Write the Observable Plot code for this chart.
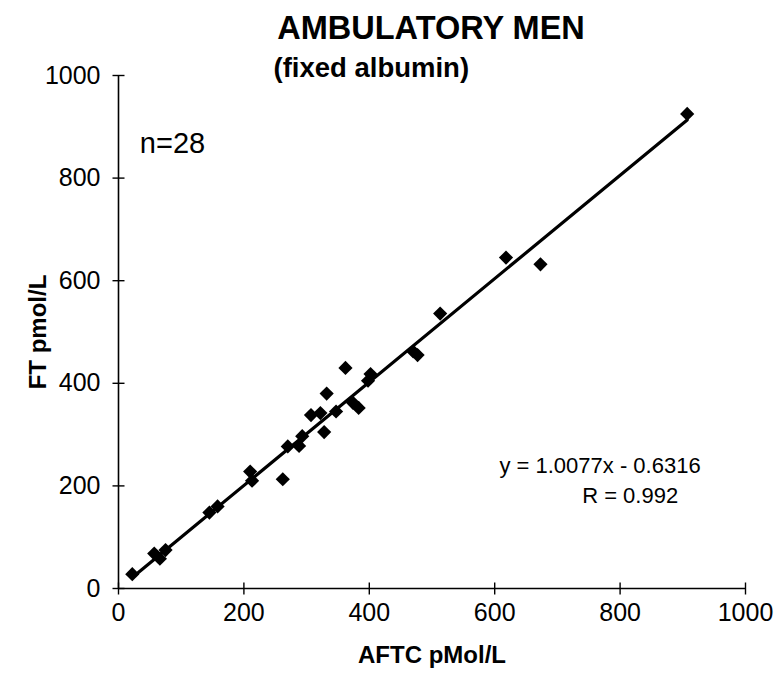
<!DOCTYPE html>
<html>
<head>
<meta charset="utf-8">
<script src="https://cdn.jsdelivr.net/npm/d3@7"></script>
<script src="https://cdn.jsdelivr.net/npm/@observablehq/plot@0.6"></script>
<style>
  html, body { margin: 0; padding: 0; background: #fff; }
  #chart { width: 775px; height: 679px; }
</style>
</head>
<body>
<div id="chart"></div>
<script>
// Ambulatory men, fixed albumin: analogue free testosterone vs free testosterone
const aftc = [22, 57, 66, 75, 145, 158, 210, 213, 262, 270, 288, 293, 307, 322, 328, 332,
              347, 362, 374, 383, 398, 402, 470, 477, 513, 618, 673, 907];
const ft   = [28, 68, 58, 75, 148, 160, 228, 210, 213, 277, 278, 297, 338, 342, 305, 380,
              345, 430, 362, 352, 405, 418, 462, 455, 536, 645, 632, 925];

// Least-squares fit reported on the chart
const slope = 1.0077;
const intercept = -0.6316;
const rValue = 0.992;

const xTicks = [0, 200, 400, 600, 800, 1000];
const yTicks = [0, 200, 400, 600, 800, 1000];

const points = aftc.map((x, i) => ({x, y: ft[i]}));
const xExtent = d3.extent(aftc);
const fitLine = xExtent.map(x => ({x, y: slope * x + intercept}));

const fmt = v => (v < 0 ? " - " : " + ") + Math.abs(v).toFixed(4);
const eqText = `y = ${slope.toFixed(4)}x${fmt(intercept)}`;
const rText = `R = ${rValue}`;

// short tick strokes that straddle the axis lines
const vTick = {draw(ctx) { ctx.moveTo(0, -6); ctx.lineTo(0, 6); }};
const hTick = {draw(ctx) { ctx.moveTo(-6, 0); ctx.lineTo(6, 0); }};

const chart = Plot.plot({
  width: 775,
  height: 679,
  marginLeft: 118,
  marginRight: 30,
  marginTop: 75,
  marginBottom: 91,
  x: {domain: [0, 1000], label: null},
  y: {domain: [0, 1000], label: null},
  style: {fontFamily: "'Liberation Sans', Arial, sans-serif", color: "black", background: "white"},
  marks: [
    Plot.ruleX([0], {stroke: "black", strokeWidth: 1.6}),
    Plot.ruleY([0], {stroke: "black", strokeWidth: 1.6}),
    Plot.dot(xTicks, {x: d => d, y: 0, symbol: vTick, stroke: "black", strokeWidth: 1.4, fill: "none"}),
    Plot.dot(yTicks, {x: 0, y: d => d, symbol: hTick, stroke: "black", strokeWidth: 1.4, fill: "none"}),
    Plot.axisX(xTicks, {tickSize: 0, tickPadding: 15, fontSize: 25, tickFormat: d => String(d), label: null}),
    Plot.axisY(yTicks, {tickSize: 0, tickPadding: 18, fontSize: 25, tickFormat: d => String(d), label: null}),
    Plot.line(fitLine, {x: "x", y: "y", stroke: "black", strokeWidth: 3.2}),
    Plot.dot(points, {x: "x", y: "y", symbol: "diamond2", r: 6.4, fill: "black"}),
    Plot.text(["n=28"], {x: 34, y: 867, text: d => d, textAnchor: "start", fontSize: 29}),
    Plot.text([eqText], {x: 768, y: 238, text: d => d, fontSize: 22}),
    Plot.text([rText], {x: 816, y: 181, text: d => d, fontSize: 22}),
    Plot.text(["AMBULATORY MEN"], {frameAnchor: "top", dx: -1, dy: -47, lineAnchor: "middle",
      text: d => d, fontSize: 32.5, fontWeight: "bold"}),
    Plot.text(["(fixed albumin)"], {frameAnchor: "top-left", dx: 155, dy: -7, lineAnchor: "middle",
      textAnchor: "start", text: d => d, fontSize: 27.5, fontWeight: "bold"}),
    Plot.text(["AFTC pMol/L"], {frameAnchor: "bottom", dy: 67, lineAnchor: "middle",
      text: d => d, fontSize: 24, fontWeight: "bold"}),
    Plot.text(["FT pmol/L"], {x: 0, y: 500, dx: -80, rotate: -90, lineAnchor: "middle",
      text: d => d, fontSize: 24, fontWeight: "bold"})
  ]
});

document.getElementById("chart").append(chart);
</script>
</body>
</html>
